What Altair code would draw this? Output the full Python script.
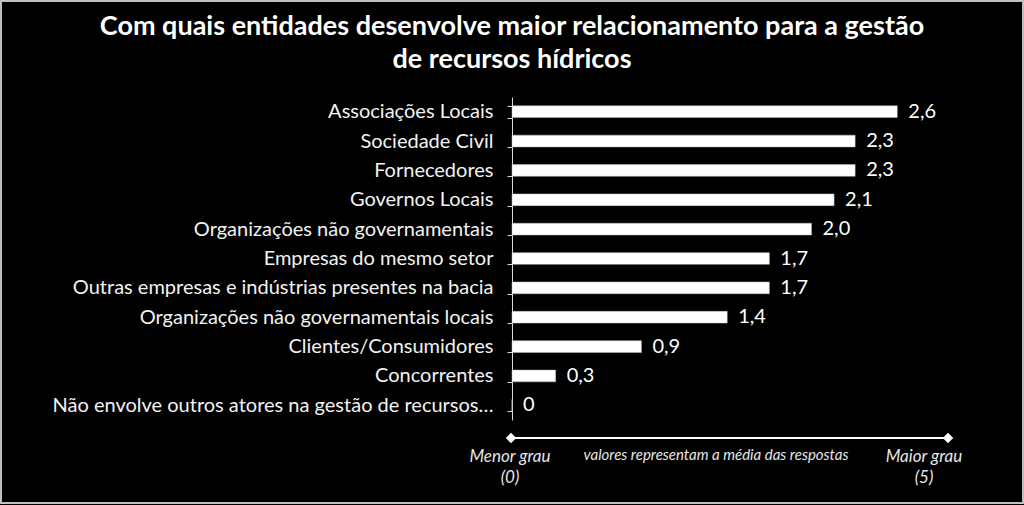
import altair as alt
import pandas as pd

categories = [
    "Associações Locais",
    "Sociedade Civil",
    "Fornecedores",
    "Governos Locais",
    "Organizações não governamentais",
    "Empresas do mesmo setor",
    "Outras empresas e indústrias presentes na bacia",
    "Organizações não governamentais locais",
    "Clientes/Consumidores",
    "Concorrentes",
    "Não envolve outros atores na gestão de recursos…",
]
# bar lengths (labels show the rounded values)
values = [2.56, 2.28, 2.28, 2.14, 1.99, 1.71, 1.71, 1.43, 0.86, 0.29, 0.0]
value_labels = ["2,6", "2,3", "2,3", "2,1", "2,0", "1,7", "1,7", "1,4", "0,9", "0,3", "0"]

title_lines = [
    "Com quais entidades desenvolve maior relacionamento para a gestão",
    "de recursos hídricos",
]
scale_left = ["Menor grau", "(0)"]
scale_right = ["Maior grau", "(5)"]
scale_note = "valores representam a média das respostas"

df = pd.DataFrame({"cat": categories, "val": values, "lab": value_labels})

W, H = 500, 323
FONT = "Lato"

y_enc = alt.Y(
    "cat:N",
    sort=categories,
    scale=alt.Scale(paddingInner=0.6, paddingOuter=0.3),
    axis=alt.Axis(
        title=None,
        labelColor="#f2f2f2",
        labelFont=FONT,
        labelFontSize=20,
        labelPadding=14,
        labelLimit=0,
        domainColor="#d9d9d9",
        tickColor="#d9d9d9",
        tickSize=5,
        tickBand="extent",
        domainWidth=1,
    ),
)
x_enc = alt.X("val:Q", scale=alt.Scale(domain=[0, W / 150.5]), axis=None)

bars = alt.Chart(df).mark_bar(color="white", stroke="#bfbfbf", strokeWidth=0.5).encode(x=x_enc, y=y_enc)
labels = alt.Chart(df).mark_text(
    align="left", baseline="middle", dx=11, color="white", font=FONT, fontSize=20
).encode(x=x_enc, y=y_enc, text="lab:N")

one = pd.DataFrame({"k": [0]})
LINE_Y = 341
X0, X1 = -1, 436

frame = alt.Chart(one).mark_rect(fill="black", fillOpacity=0, stroke="#bfbfbf", strokeWidth=2).encode(
    x=alt.value(-511), x2=alt.value(511), y=alt.value(-96), y2=alt.value(406)
)

title_style = dict(color="white", font=FONT, fontSize=27, fontWeight="bold", baseline="middle", align="center")
title1 = alt.Chart(one).mark_text(**title_style).encode(
    x=alt.value(0), y=alt.value(-70), text=alt.value(title_lines[0])
)
title2 = alt.Chart(one).mark_text(**title_style).encode(
    x=alt.value(0), y=alt.value(-37), text=alt.value(title_lines[1])
)

scale_line = alt.Chart(one).mark_rule(color="white", strokeWidth=2).encode(
    x=alt.value(X0), x2=alt.value(X1), y=alt.value(LINE_Y)
)
diamonds = alt.Chart(pd.DataFrame({"px": [X0, X1]})).mark_point(
    shape="diamond", filled=True, color="white", size=110, opacity=1
).encode(x=alt.X("px:Q", scale=None), y=alt.value(LINE_Y))

txt_style = dict(color="#e6e6e6", font=FONT, fontStyle="italic", baseline="middle", align="center")
left_txt = alt.Chart(one).mark_text(fontSize=17, lineHeight=21, **txt_style).encode(
    x=alt.value(-2), y=alt.value(360), text=alt.value(scale_left)
)
right_txt = alt.Chart(one).mark_text(fontSize=17, lineHeight=21, **txt_style).encode(
    x=alt.value(412), y=alt.value(360), text=alt.value(scale_right)
)
note_txt = alt.Chart(one).mark_text(fontSize=15, **txt_style).encode(
    x=alt.value(204), y=alt.value(358), text=alt.value(scale_note)
)

chart = alt.layer(
    frame, title1, title2, bars, labels, scale_line, diamonds, left_txt, right_txt, note_txt
).properties(
    width=W,
    height=H,
    padding={"left": 512, "top": 97, "right": 12, "bottom": 85},
    autosize=alt.AutoSizeParams(type="none"),
    background="black",
).configure_view(stroke=None)

chart.save("out.html", embed_options={"renderer": "svg", "actions": False})
